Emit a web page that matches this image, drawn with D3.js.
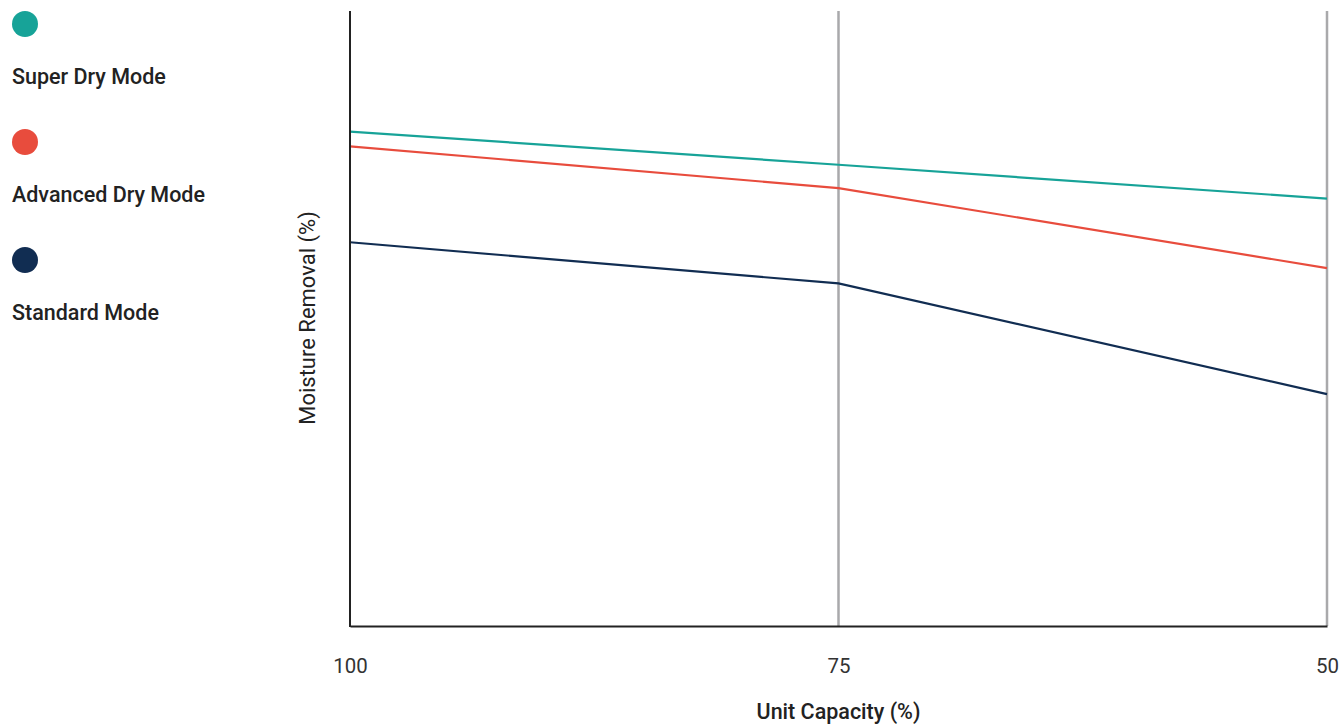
<!DOCTYPE html>
<html><head><meta charset="utf-8">
<script src="https://cdn.jsdelivr.net/npm/d3@7"></script>
<style>
html,body{margin:0;padding:0;background:#fff;}
svg{display:block;font-family:Roboto,"Noto Sans",sans-serif;}
</style></head>
<body><svg id="chart" width="1340" height="728"></svg>
<script>
const categories = [100, 75, 50];
const seriesNames = ["Super Dry Mode", "Advanced Dry Mode", "Standard Mode"];
const seriesColors = ["#17a398", "#e84c3d", "#112d52"];
const superDry = [80.4, 75.0, 69.5];
const advancedDry = [78.0, 71.2, 58.2];
const standard = [62.4, 55.7, 37.7];
const seriesValues = [superDry, advancedDry, standard];

(function () {
const svg = d3.select("#chart");
const mLeft = 350, mRight = 1327, mTop = 11, mBottom = 626;

const x = d3.scalePoint().domain(categories).range([mLeft, mRight]);
const y = d3.scaleLinear().domain([0, 100]).range([mBottom, mTop]);

// gridlines at non-first categories
svg.append("g").selectAll("line").data(categories.slice(1)).join("line")
  .attr("x1", d => x(d)).attr("x2", d => x(d))
  .attr("y1", mTop).attr("y2", mBottom)
  .attr("stroke", "#a9a9ab").attr("stroke-width", 2.5);

// lines
const line = d3.line().x((d, i) => x(categories[i])).y(d => y(d));
seriesValues.forEach((vals, k) => {
  svg.append("path").datum(vals)
    .attr("d", line).attr("fill", "none")
    .attr("stroke", seriesColors[k]).attr("stroke-width", 2.2);
});

// axes
const xAxis = d3.axisBottom(x).tickSize(0).tickPadding(0);
const gx = svg.append("g").attr("transform", `translate(0,${mBottom})`).call(xAxis);
gx.select(".domain").attr("stroke", "#222").attr("stroke-width", 2);
gx.selectAll("text").attr("font-size", 21).attr("fill", "#333")
  .attr("font-family", "Roboto, sans-serif")
  .attr("y", 47).attr("dy", null)
  .attr("textLength", 34).attr("lengthAdjust", "spacingAndGlyphs")
  .each(function (d) { d3.select(this).attr("textLength", String(d).length * 11.5); });

svg.append("line").attr("x1", mLeft).attr("x2", mLeft).attr("y1", mTop).attr("y2", mBottom + 1)
  .attr("stroke", "#222").attr("stroke-width", 2);

// axis titles
svg.append("text").attr("x", (mLeft + mRight) / 2).attr("y", 719)
  .attr("text-anchor", "middle").attr("font-size", 21.5).attr("font-weight", 500)
  .attr("fill", "#222").text("Unit Capacity (%)");
svg.append("text").attr("transform", "translate(315,318) rotate(-90)")
  .attr("text-anchor", "middle").attr("font-size", 22)
  .attr("fill", "#222").text("Moisture Removal (%)");

// legend
const lg = svg.append("g").selectAll("g").data(seriesNames).join("g")
  .attr("transform", (d, i) => `translate(0,${i * 118})`);
lg.append("circle").attr("cx", 25).attr("cy", 24).attr("r", 13)
  .attr("fill", (d, i) => seriesColors[i]);
lg.append("text").attr("x", 12).attr("y", 84).attr("font-size", 21.5)
  .attr("font-weight", 500).attr("fill", "#222").text(d => d);
})();
</script></body></html>
